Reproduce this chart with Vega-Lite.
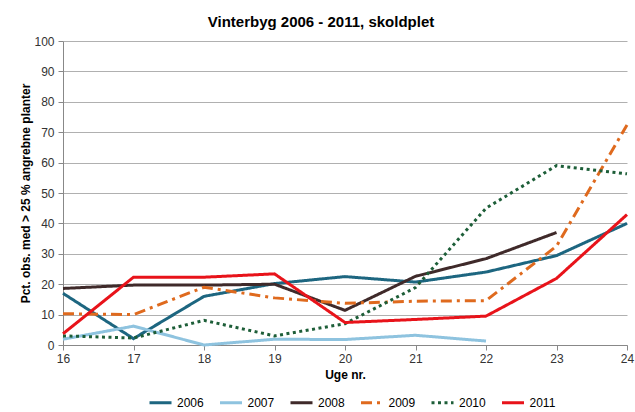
{
  "$schema": "https://vega.github.io/schema/vega-lite/v6.json",
  "width": 564,
  "height": 304,
  "autosize": {"type": "none"},
  "padding": {"left": 63, "top": 41, "right": 8, "bottom": 67},
  "background": "white",
  "title": {
    "text": "Vinterbyg 2006 - 2011, skoldplet",
    "font": "Liberation Sans",
    "fontSize": 15,
    "fontWeight": "bold",
    "color": "#000000",
    "anchor": "middle",
    "frame": "group",
    "baseline": "alphabetic",
    "dx": -24,
    "dy": 23,
    "offset": 16
  },
  "data": {
    "values": [
      {"uge": 16, "aar": "2006", "pct": 17},
      {"uge": 17, "aar": "2006", "pct": 2.1},
      {"uge": 18, "aar": "2006", "pct": 16},
      {"uge": 19, "aar": "2006", "pct": 20.2},
      {"uge": 20, "aar": "2006", "pct": 22.5},
      {"uge": 21, "aar": "2006", "pct": 20.7},
      {"uge": 22, "aar": "2006", "pct": 24},
      {"uge": 23, "aar": "2006", "pct": 29.4},
      {"uge": 24, "aar": "2006", "pct": 40},
      {"uge": 16, "aar": "2007", "pct": 1.9},
      {"uge": 17, "aar": "2007", "pct": 6.2},
      {"uge": 18, "aar": "2007", "pct": 0},
      {"uge": 19, "aar": "2007", "pct": 1.9},
      {"uge": 20, "aar": "2007", "pct": 1.8},
      {"uge": 21, "aar": "2007", "pct": 3.2},
      {"uge": 22, "aar": "2007", "pct": 1.3},
      {"uge": 16, "aar": "2008", "pct": 18.6},
      {"uge": 17, "aar": "2008", "pct": 19.7},
      {"uge": 18, "aar": "2008", "pct": 19.7},
      {"uge": 19, "aar": "2008", "pct": 20},
      {"uge": 20, "aar": "2008", "pct": 11.4},
      {"uge": 21, "aar": "2008", "pct": 22.6},
      {"uge": 22, "aar": "2008", "pct": 28.4},
      {"uge": 23, "aar": "2008", "pct": 37},
      {"uge": 16, "aar": "2009", "pct": 10.3},
      {"uge": 17, "aar": "2009", "pct": 10},
      {"uge": 18, "aar": "2009", "pct": 19},
      {"uge": 19, "aar": "2009", "pct": 15.5},
      {"uge": 20, "aar": "2009", "pct": 13.7},
      {"uge": 21, "aar": "2009", "pct": 14.4},
      {"uge": 22, "aar": "2009", "pct": 14.6},
      {"uge": 23, "aar": "2009", "pct": 32.5},
      {"uge": 24, "aar": "2009", "pct": 72.4},
      {"uge": 16, "aar": "2010", "pct": 3},
      {"uge": 17, "aar": "2010", "pct": 2.3},
      {"uge": 18, "aar": "2010", "pct": 8.1},
      {"uge": 19, "aar": "2010", "pct": 3},
      {"uge": 20, "aar": "2010", "pct": 7},
      {"uge": 21, "aar": "2010", "pct": 18.9},
      {"uge": 22, "aar": "2010", "pct": 45},
      {"uge": 23, "aar": "2010", "pct": 59},
      {"uge": 24, "aar": "2010", "pct": 56.3},
      {"uge": 16, "aar": "2011", "pct": 3.7},
      {"uge": 17, "aar": "2011", "pct": 22.3},
      {"uge": 18, "aar": "2011", "pct": 22.3},
      {"uge": 19, "aar": "2011", "pct": 23.4},
      {"uge": 20, "aar": "2011", "pct": 7.4},
      {"uge": 21, "aar": "2011", "pct": 8.4},
      {"uge": 22, "aar": "2011", "pct": 9.5},
      {"uge": 23, "aar": "2011", "pct": 21.9},
      {"uge": 24, "aar": "2011", "pct": 42.9}
    ]
  },
  "mark": {"type": "line", "clip": false},
  "encoding": {
    "x": {
      "field": "uge",
      "type": "quantitative",
      "scale": {"domain": [16, 24], "nice": false, "zero": false},
      "axis": {
        "values": [16, 17, 18, 19, 20, 21, 22, 23, 24],
        "title": "Uge nr.",
        "grid": false,
        "tickSize": 5,
        "labelPadding": 3,
        "titlePadding": 5,
        "labelFlush": false
      }
    },
    "y": {
      "field": "pct",
      "type": "quantitative",
      "scale": {"domain": [0, 100], "nice": false},
      "axis": {
        "values": [0, 10, 20, 30, 40, 50, 60, 70, 80, 90, 100],
        "title": "Pct. obs. med > 25 % angrebne planter",
        "titleFontSize": 12,
        "grid": true,
        "tickSize": 5,
        "labelPadding": 4,
        "titleX": -38,
        "titleY": 152,
        "titleBaseline": "middle",
        "titleAlign": "center"
      }
    },
    "color": {
      "field": "aar",
      "type": "nominal",
      "scale": {
        "domain": ["2006", "2007", "2008", "2009", "2010", "2011"],
        "range": ["#1D6680", "#8EC3DF", "#3F2A2A", "#DF6A1E", "#1D5E38", "#E8131A"]
      },
      "legend": {
        "orient": "none",
        "legendX": 85,
        "legendY": 349,
        "direction": "horizontal",
        "title": null,
        "symbolType": "stroke",
        "symbolSize": 484,
        "labelOffset": 4,
        "columnPadding": 9.5
      }
    },
    "strokeDash": {
      "field": "aar",
      "type": "nominal",
      "scale": {
        "domain": ["2006", "2007", "2008", "2009", "2010", "2011"],
        "range": [[1, 0], [1, 0], [1, 0], [11, 5, 3, 5], [3, 3.5], [1, 0]]
      },
      "legend": {
        "orient": "none",
        "legendX": 85,
        "legendY": 349,
        "direction": "horizontal",
        "title": null,
        "symbolType": "stroke",
        "symbolSize": 484,
        "labelOffset": 4,
        "columnPadding": 9.5
      }
    },
    "strokeWidth": {
      "field": "aar",
      "type": "ordinal",
      "scale": {
        "domain": ["2006", "2007", "2008", "2009", "2010", "2011"],
        "range": [3, 3, 3, 3.5, 3.5, 5]
      },
      "legend": {
        "orient": "none",
        "legendX": 85,
        "legendY": 349,
        "direction": "horizontal",
        "title": null,
        "symbolType": "stroke",
        "symbolSize": 484,
        "labelOffset": 4,
        "columnPadding": 9.5
      }
    }
  },
  "config": {
    "font": "Liberation Sans",
    "view": {"stroke": null},
    "axis": {
      "labelFont": "Liberation Sans",
      "labelFontSize": 12,
      "labelColor": "#333333",
      "titleFont": "Liberation Sans",
      "titleFontSize": 12,
      "titleFontWeight": "bold",
      "titleColor": "#000000",
      "domainColor": "#888888",
      "tickColor": "#888888",
      "gridColor": "#B0B0B0",
      "gridWidth": 1
    },
    "legend": {
      "labelFont": "Liberation Sans",
      "labelFontSize": 12,
      "labelColor": "#000000"
    }
  }
}
